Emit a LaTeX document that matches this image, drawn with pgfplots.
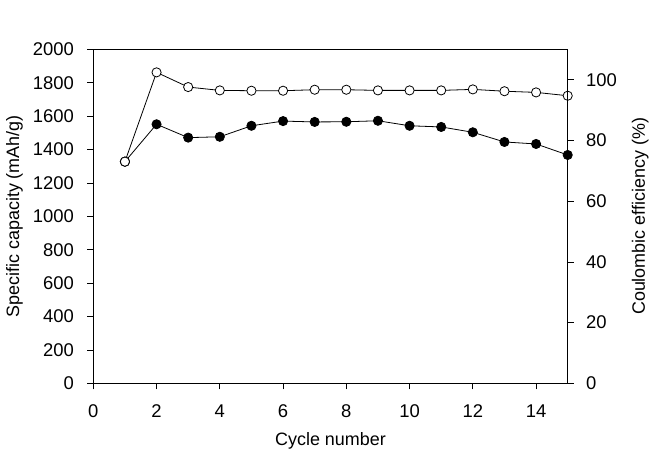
\documentclass[border=0pt]{standalone}
\usepackage{pgfplots}
\pgfplotsset{compat=1.18}
\usepackage{fontspec}
\setmainfont{Liberation Sans}
\begin{document}
\begin{tikzpicture}[x=1bp,y=1bp]
\useasboundingbox (-93.3bp,-68.7bp) rectangle (556.7bp,383.3bp);
\pgfplotsset{
  common/.style={
    width=474.4bp, height=333.8bp, scale only axis,
    at={(0,0)}, anchor=south west,
    xmin=0, xmax=15,
    tick align=outside,
    major tick length=6bp,
    every tick/.style={black, line width=0.8bp},
    axis line style={line width=0.8bp},
    tick label style={font=\fontsize{18.5}{21}\selectfont},
    label style={font=\fontsize{18}{21}\selectfont},
    /pgf/number format/assume math mode=true,
  }
}
\begin{axis}[common,
  ymin=0, ymax=2000,
  ytick={0,200,...,2000},
  xtick={0,2,...,14},
  xtick pos=lower, ytick pos=left,
  /pgf/number format/set thousands separator={},
  xlabel={Cycle number},
  ylabel={Specific capacity (mAh/g)},
  yticklabel style={xshift=-10bp},
  xticklabel style={yshift=-12bp},
  xlabel style={yshift=-8bp},
  ylabel style={yshift=3bp},
]
\addplot[black, line width=0.8bp, mark=*, mark size=4.6bp, mark options={fill=white, line width=0.8bp}]
coordinates {(1,1328)(2,1863)(3,1775)(4,1755)(5,1753)(6,1753)(7,1759)(8,1759)(9,1755)(10,1755)(11,1755)(12,1761)(13,1750)(14,1743)(15,1723)};
\addplot[black, line width=0.8bp, mark=*, mark size=4.6bp, mark options={fill=black}]
coordinates {(1,1328)(2,1552)(3,1472)(4,1477)(5,1543)(6,1571)(7,1566)(8,1567)(9,1573)(10,1543)(11,1536)(12,1504)(13,1446)(14,1434)(15,1368)};
\addplot[black, line width=0.8bp, mark=*, mark size=4.6bp, mark options={fill=white, line width=0.8bp}]
coordinates {(1,1328)};
\end{axis}
\begin{axis}[common,
  ymin=0, ymax=110,
  ytick={0,20,...,100},
  axis x line=none,
  axis y line*=right,
  yticklabel style={xshift=9bp},
  ylabel={Coulombic efficiency (\%)},
  ylabel style={yshift=-8bp},
]
\end{axis}
\end{tikzpicture}
\end{document}
